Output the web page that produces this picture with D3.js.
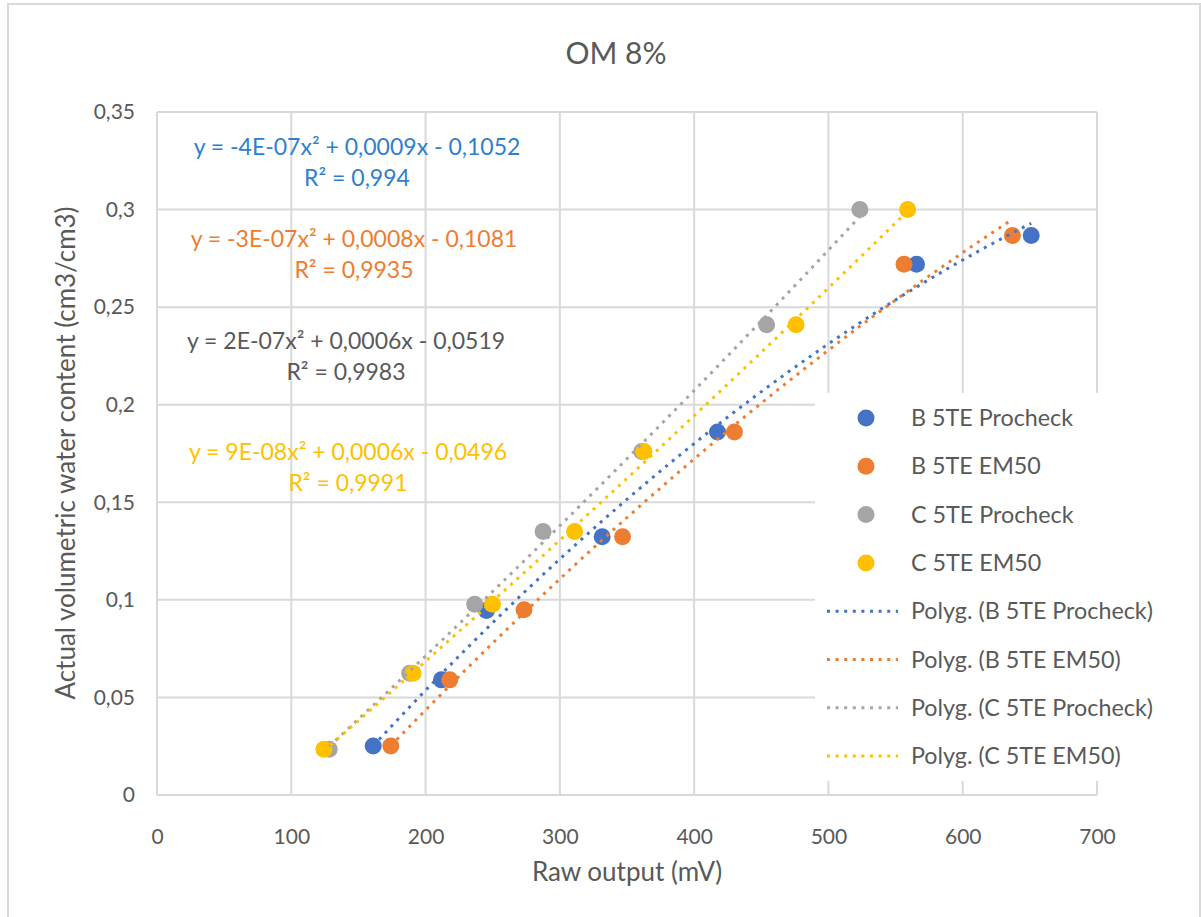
<!DOCTYPE html>
<html>
<head>
<meta charset="utf-8">
<script src="https://cdn.jsdelivr.net/npm/d3@7"></script>
<style>
  html, body { margin: 0; padding: 0; background: #fff; }
  svg text { font-family: Lato, "Open Sans", "Liberation Sans", sans-serif; }
</style>
</head>
<body>
<svg id="chart" width="1201" height="917"></svg>
<script>
// ---- data -------------------------------------------------------------
const seriesNames = ["B 5TE Procheck", "B 5TE EM50", "C 5TE Procheck", "C 5TE EM50"];
const seriesColors = ["#4472C4", "#ED7D31", "#A5A5A5", "#FFC000"];

const bProcheckX = [161, 211.8, 245.3, 331.5, 417.4, 565.6, 651];
const bProcheckY = [0.0251, 0.059, 0.0945, 0.1323, 0.186, 0.272, 0.2867];
const bEm50X     = [174.1, 218, 273.3, 346.7, 430, 556.3, 637];
const bEm50Y     = [0.0251, 0.059, 0.0949, 0.1323, 0.186, 0.272, 0.2867];
const cProcheckX = [128.2, 188.2, 236.6, 287.5, 361, 454, 523.4];
const cProcheckY = [0.0234, 0.0624, 0.0978, 0.135, 0.176, 0.241, 0.3];
const cEm50X     = [124.3, 190.7, 249.8, 311, 362.6, 475.9, 559];
const cEm50Y     = [0.0234, 0.0624, 0.0978, 0.135, 0.176, 0.241, 0.3];

const xTicks = [0, 100, 200, 300, 400, 500, 600, 700];
const yTicks = [0, 0.05, 0.1, 0.15, 0.2, 0.25, 0.3, 0.35];

const equationLines = [
  ["y = -4E-07x² + 0,0009x - 0,1052", "R² = 0,994"],
  ["y = -3E-07x² + 0,0008x - 0,1081", "R² = 0,9935"],
  ["y = 2E-07x² + 0,0006x - 0,0519", "R² = 0,9983"],
  ["y = 9E-08x² + 0,0006x - 0,0496", "R² = 0,9991"]
];
const equationColors = ["#2E80CF", "#ED7D31", "#595959", "#FFC000"];

const chartTitle = "OM 8%";
const xTitle = "Raw output (mV)";
const yTitle = "Actual volumetric water content (cm3/cm3)";

// ---- helpers ----------------------------------------------------------
const series = [
  { name: seriesNames[0], xs: bProcheckX, ys: bProcheckY },
  { name: seriesNames[1], xs: bEm50X, ys: bEm50Y },
  { name: seriesNames[2], xs: cProcheckX, ys: cProcheckY },
  { name: seriesNames[3], xs: cEm50X, ys: cEm50Y }
].map((s, i) => ({ ...s, color: seriesColors[i], points: s.xs.map((x, j) => ({ x, y: s.ys[j] })) }));

// least-squares quadratic fit: returns [c, b, a] for y = a x² + b x + c
function polyFit2(xs, ys) {
  const S = k => d3.sum(xs, x => Math.pow(x, k));
  const T = k => d3.sum(xs, (x, i) => Math.pow(x, k) * ys[i]);
  const M = [
    [S(0), S(1), S(2), T(0)],
    [S(1), S(2), S(3), T(1)],
    [S(2), S(3), S(4), T(2)]
  ];
  for (let c = 0; c < 3; c++) {
    let p = c;
    for (let r = c + 1; r < 3; r++) if (Math.abs(M[r][c]) > Math.abs(M[p][c])) p = r;
    [M[c], M[p]] = [M[p], M[c]];
    for (let r = 0; r < 3; r++) {
      if (r === c) continue;
      const f = M[r][c] / M[c][c];
      for (let k = c; k < 4; k++) M[r][k] -= f * M[c][k];
    }
  }
  return [M[0][3] / M[0][0], M[1][3] / M[1][1], M[2][3] / M[2][2]];
}

const locale = d3.formatLocale({ decimal: ",", thousands: ".", grouping: [3], currency: ["", ""] });
const yFmt = v => locale.format(".2~f")(v);

// ---- layout -----------------------------------------------------------
const svg = d3.select("#chart");
const plot = { left: 157, right: 1097, top: 112, bottom: 795 };
const x = d3.scaleLinear().domain([0, 700]).range([plot.left, plot.right]);
const y = d3.scaleLinear().domain([0, 0.35]).range([plot.bottom, plot.top]);
const textColor = "#595959";
const gridColor = "#d9d9d9";

// chart frame
svg.append("rect")
  .attr("x", 8).attr("y", 4).attr("width", 1192).attr("height", 930)
  .attr("fill", "#fff").attr("stroke", gridColor).attr("stroke-width", 2);

// title
svg.append("text")
  .attr("x", 616).attr("y", 64).attr("text-anchor", "middle")
  .attr("font-size", 30).attr("fill", textColor).text(chartTitle);

// gridlines
const grid = svg.append("g");
grid.selectAll("line.h").data(yTicks).join("line")
  .attr("x1", plot.left).attr("x2", plot.right)
  .attr("y1", d => y(d)).attr("y2", d => y(d))
  .attr("stroke", gridColor).attr("stroke-width", 2);
grid.selectAll("line.v").data(xTicks).join("line")
  .attr("x1", d => x(d)).attr("x2", d => x(d))
  .attr("y1", plot.top).attr("y2", plot.bottom)
  .attr("stroke", gridColor).attr("stroke-width", 2);

// axes (labels only, lines are the grid)
const xAxis = svg.append("g").attr("transform", `translate(0,${plot.bottom})`)
  .call(d3.axisBottom(x).tickValues(xTicks).tickSize(0).tickPadding(34).tickFormat(d3.format("d")));
const yAxis = svg.append("g").attr("transform", `translate(${plot.left},0)`)
  .call(d3.axisLeft(y).tickValues(yTicks).tickSize(0).tickPadding(22).tickFormat(yFmt));
[xAxis, yAxis].forEach(g => {
  g.select(".domain").remove();
  g.selectAll("text").attr("font-size", 21).attr("fill", textColor)
    .attr("font-family", "Lato, 'Open Sans', sans-serif");
});

// axis titles
svg.append("text")
  .attr("x", 627).attr("y", 881).attr("text-anchor", "middle")
  .attr("font-size", 26).attr("fill", textColor).text(xTitle);
svg.append("text")
  .attr("transform", "translate(75,453) rotate(-90)").attr("text-anchor", "middle")
  .attr("font-size", 26).attr("fill", textColor).text(yTitle);

// equation labels
const eqPos = [[357, 155], [354, 247], [346, 349], [348, 460]];
equationLines.forEach((lines, i) => {
  const t = svg.append("text")
    .attr("x", eqPos[i][0]).attr("y", eqPos[i][1]).attr("text-anchor", "middle")
    .attr("font-size", 23).attr("fill", equationColors[i]);
  lines.forEach((ln, k) => t.append("tspan")
    .attr("x", eqPos[i][0]).attr("dy", k === 0 ? 0 : 31).text(ln));
});

// legend panel (white background covers grid)
const legend = svg.append("g");
legend.append("rect")
  .attr("x", 815).attr("y", 393).attr("width", 355).attr("height", 388)
  .attr("fill", "#fff");

// markers
series.forEach(s => {
  svg.append("g").selectAll("circle").data(s.points).join("circle")
    .attr("cx", d => x(d.x)).attr("cy", d => y(d.y)).attr("r", 8.5)
    .attr("fill", s.color);
});

// quadratic trend lines
const dotted = "3,5.6";
series.forEach(s => {
  const [c0, c1, c2] = polyFit2(s.xs, s.ys);
  const lo = d3.min(s.xs), hi = d3.max(s.xs);
  const samples = d3.range(0, 101).map(k => {
    const xv = lo + (hi - lo) * k / 100;
    return { x: xv, y: c0 + c1 * xv + c2 * xv * xv };
  });
  svg.append("path").datum(samples)
    .attr("d", d3.line().x(d => x(d.x)).y(d => y(d.y)))
    .attr("fill", "none").attr("stroke", s.color).attr("stroke-width", 3)
    .attr("stroke-dasharray", dotted);
});

// legend entries
const rowY = i => 418 + i * 48.3;
series.forEach((s, i) => {
  legend.append("circle").attr("cx", 866).attr("cy", rowY(i)).attr("r", 8.5).attr("fill", s.color);
  legend.append("text").attr("x", 911).attr("y", rowY(i) + 8)
    .attr("font-size", 23.3).attr("fill", textColor).text(s.name);
});
series.forEach((s, i) => {
  const yy = rowY(i + 4);
  legend.append("line").attr("x1", 827).attr("x2", 898).attr("y1", yy).attr("y2", yy)
    .attr("stroke", s.color).attr("stroke-width", 3).attr("stroke-dasharray", dotted);
  legend.append("text").attr("x", 911).attr("y", yy + 8)
    .attr("font-size", 23.3).attr("fill", textColor).text(`Polyg. (${s.name})`);
});
</script>
</body>
</html>
